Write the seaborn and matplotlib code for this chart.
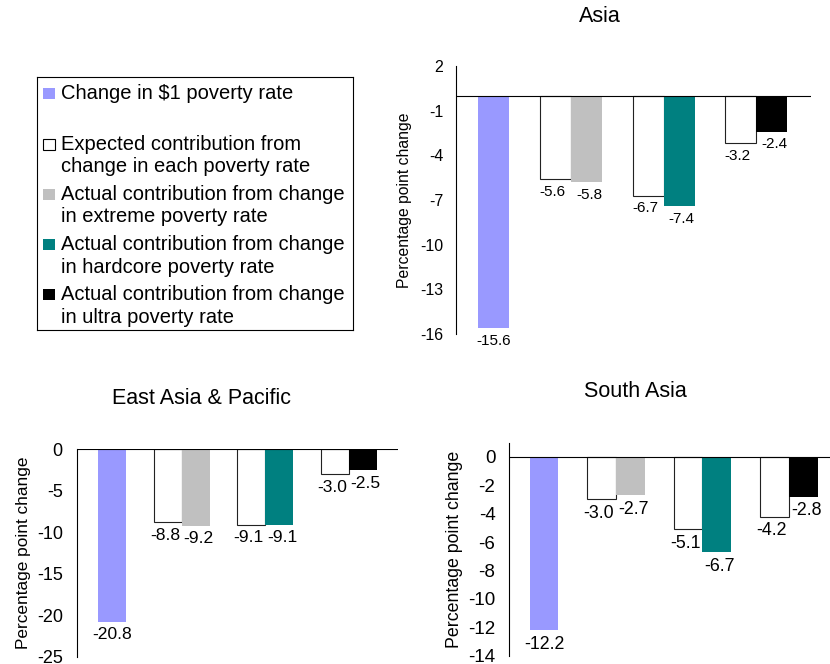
import matplotlib
matplotlib.use('Agg')
import matplotlib.pyplot as plt
import matplotlib.patches as mpatches
import seaborn as sns
import numpy as np
import pandas as pd

categories = ["dollar1", "extreme", "hardcore", "ultra"]
slots = ["Expected", "Actual"]

asia_change = -15.6
asia_expected = [-5.6, -6.7, -3.2]
asia_actual = [-5.8, -7.4, -2.4]

eap_change = -20.8
eap_expected = [-8.8, -9.1, -3.0]
eap_actual = [-9.2, -9.1, -2.5]

sa_change = -12.2
sa_expected = [-3.0, -5.1, -4.2]
sa_actual = [-2.7, -6.7, -2.8]

series_colors = {"dollar1": "#9999FF", "extreme": "#C0C0C0",
                 "hardcore": "#008080", "ultra": "#000000"}
legend_entries = [
    ("#9999FF", ["Change in $1 poverty rate"]),
    ("white", ["Expected contribution from", "change in each poverty rate"]),
    ("#C0C0C0", ["Actual contribution from change", "in extreme poverty rate"]),
    ("#008080", ["Actual contribution from change", "in hardcore poverty rate"]),
    ("#000000", ["Actual contribution from change", "in ultra poverty rate"]),
]


def build_df(change, expected, actual):
    rows = [(categories[0], "Actual", change)]
    for i in range(3):
        rows.append((categories[i + 1], "Expected", expected[i]))
        rows.append((categories[i + 1], "Actual", actual[i]))
    return pd.DataFrame(rows, columns=["category", "slot", "value"])


def draw(ax, df, ylim, yticks, xlim, tick_fs, val_fs, ylab_fs, ylab_x, pad):
    sns.barplot(data=df, x="category", y="value", hue="slot", order=categories,
                hue_order=slots, width=0.67, dodge=True, legend=False,
                errorbar=None, saturation=1, ax=ax)
    for cont in ax.containers:
        shifts = []
        for bar in cont:
            cx = bar.get_x() + bar.get_width() / 2
            idx = int(round(cx))
            if cx < idx:
                bar.set_facecolor("white")
                bar.set_edgecolor("#222222")
                bar.set_linewidth(0.8)
                shifts.append(-2)
            else:
                bar.set_facecolor(series_colors[categories[idx]])
                bar.set_edgecolor("none")
                shifts.append(2 if idx > 0 else 0)
        labels = ax.bar_label(cont, fmt="%.1f", padding=4, fontsize=val_fs)
        # push paired labels slightly apart
        for t, dx in zip(labels, shifts):
            t.xyann = (dx, t.xyann[1])
    ax.axhline(0, color="black", lw=0.8)
    ax.set_ylim(*ylim)
    ax.set_xlim(*xlim)
    ax.set_yticks(yticks)
    ax.set_xticks([])
    ax.set_xlabel("")
    ax.set_ylabel("Percentage point change", fontsize=ylab_fs)
    ax.yaxis.set_label_coords(ylab_x, 0.5)
    for s in ["top", "right", "bottom"]:
        ax.spines[s].set_visible(False)
    ax.spines["left"].set_color("black")
    ax.spines["left"].set_linewidth(0.8)
    ax.tick_params(axis="y", length=4, width=0.8, color="black",
                   labelsize=tick_fs, pad=pad, direction="out")
    ax.set_facecolor("none")


sns.set_style("white")
plt.rcParams['font.family'] = ['Liberation Sans', 'DejaVu Sans']
plt.rcParams['axes.unicode_minus'] = False
plt.rcParams['text.color'] = 'black'
plt.rcParams['ytick.color'] = 'black'
plt.rcParams['axes.labelcolor'] = 'black'

fig = plt.figure(figsize=(8.3, 6.64), dpi=100)

ax_asia = fig.add_axes([0.5490, 0.4970, 0.4283, 0.4036])
draw(ax_asia, build_df(asia_change, asia_expected, asia_actual),
     (-16, 2), np.arange(2, -17, -3), (-0.246, 3.595), 11.5, 11, 11.3, -0.123, 5)

ax_eap = fig.add_axes([0.0924, 0.0110, 0.3871, 0.3122])
draw(ax_eap, build_df(eap_change, eap_expected, eap_actual),
     (-25, 0), np.arange(0, -26, -5), (-0.26, 3.59), 13, 12.6, 12.4, -0.143, 6)

ax_sa = fig.add_axes([0.6136, 0.0125, 0.3995, 0.3208])
draw(ax_sa, build_df(sa_change, sa_expected, sa_actual),
     (-14, 1), np.arange(0, -15, -2), (-0.234, 3.6), 13.5, 12.8, 12.8, -0.14, 6)

fig.text(0.7223, 0.9744, "Asia", ha="center", va="center", fontsize=15.5)
fig.text(0.2422, 0.4006, "East Asia & Pacific", ha="center", va="center", fontsize=15.5)
fig.text(0.7657, 0.4101, "South Asia", ha="center", va="center", fontsize=15.5)

# legend box drawn in its own axes, coordinates in pixels from the box's top-left
box_w, box_h = 316, 253.3
lax = fig.add_axes([36.7 / 830, 1 - 330 / 664, box_w / 830, box_h / 664])
lax.set_xlim(0, box_w)
lax.set_ylim(box_h, 0)
lax.set_xticks([])
lax.set_yticks([])
for s in lax.spines.values():
    s.set_visible(True)
    s.set_color("black")
    s.set_linewidth(0.8)
for k, (color, lines) in enumerate(legend_entries):
    base = 22.6 + 50.2 * k
    lax.add_patch(mpatches.Rectangle((6.5, base - 11), 12, 11, facecolor=color,
                                     edgecolor="black" if color == "white" else "none",
                                     linewidth=0.8))
    for j, line in enumerate(lines):
        lax.text(24.3, base + 22.7 * j, line, ha="left", va="baseline", fontsize=14.5)

fig.savefig("out.png", dpi=100)
